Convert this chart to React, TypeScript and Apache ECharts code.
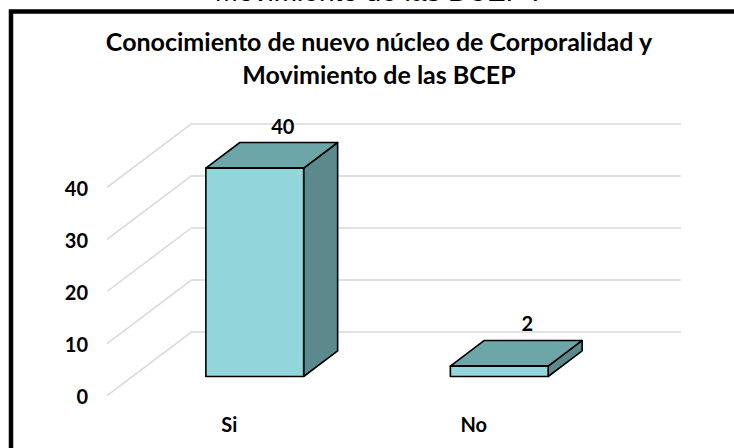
import React, { useEffect, useRef } from 'react';
import * as echarts from 'echarts';

const categories = ['Si', 'No'];
const values = [40, 2];
const yTicks = [0, 10, 20, 30, 40];
const titleLines = ['Conocimiento de nuevo núcleo de Corporalidad y', 'Movimiento de las BCEP'];
const cutHeading = 'Movimiento de las BCEP :';

// 3D projection: vector from the front plane to the back wall (pixels)
const DEPTH_X = 85;
const DEPTH_Y = -64;
const BAR_FRONT = 0.7; // bar front face, fraction of depth measured from back wall
const BAR_BACK = 0.3;
const BAR_WIDTH = 0.4;

const FONT = 'Lato';
const GRID_COLOR = '#d9d9d9';

export default function App() {
  const ref = useRef<HTMLDivElement>(null);
  useEffect(() => {
    document.body.style.margin = '0';
    const chart = echarts.init(ref.current!, null, { renderer: 'svg' });

    const renderBar = (params: any, api: any) => {
      const cat = api.value(0);
      const val = api.value(1);
      const top = api.coord([cat, val]);
      const base = api.coord([cat, 0]);
      const w = api.size([1, 0])[0] * BAR_WIDTH;
      const fx = -BAR_FRONT * DEPTH_X;
      const fy = -BAR_FRONT * DEPTH_Y;
      const dx = (BAR_FRONT - BAR_BACK) * DEPTH_X;
      const dy = (BAR_FRONT - BAR_BACK) * DEPTH_Y;
      const L = top[0] - w / 2 + fx;
      const R = top[0] + w / 2 + fx;
      const T = top[1] + fy;
      const B = base[1] + fy;
      const stroke = { stroke: '#000', lineWidth: 1.6, lineJoin: 'round' };
      return {
        type: 'group',
        children: [
          {
            type: 'polygon',
            shape: { points: [[R, T], [R, B], [R + dx, B + dy], [R + dx, T + dy]] },
            style: { fill: '#5c8a8c', ...stroke },
          },
          {
            type: 'polygon',
            shape: { points: [[L, T], [R, T], [R + dx, T + dy], [L + dx, T + dy]] },
            style: { fill: '#6da6a8', ...stroke },
          },
          {
            type: 'rect',
            shape: { x: L, y: T, width: R - L, height: B - T },
            style: { fill: '#92d6dc', ...stroke },
          },
          {
            type: 'text',
            x: top[0] + fx + dx - 6,
            y: T + dy - 17,
            style: {
              text: String(val),
              align: 'center',
              verticalAlign: 'middle',
              fontFamily: FONT,
              fontSize: 20,
              fontWeight: 'bold',
              fill: '#000',
            },
          },
        ],
      };
    };

    const renderWallLine = (params: any, api: any) => {
      const y = api.coord([0, api.value(1)])[1];
      const x = params.coordSys.x;
      return {
        type: 'line',
        shape: { x1: x, y1: y, x2: x - DEPTH_X, y2: y - DEPTH_Y },
        style: { stroke: GRID_COLOR, lineWidth: 1.5 },
      };
    };

    const labelStyle = { fontFamily: FONT, fontSize: 20, fontWeight: 'bold', color: '#000' };

    chart.setOption({
      animation: false,
      backgroundColor: '#ffffff',
      graphic: [
        {
          type: 'text',
          x: 377,
          y: -8.5,
          style: {
            text: cutHeading,
            align: 'center',
            verticalAlign: 'middle',
            fontFamily: 'Liberation Sans',
            fontSize: 28,
            fill: '#000',
          },
        },
        {
          type: 'rect',
          shape: { x: 11, y: 11.5, width: 800, height: 600 },
          style: { fill: 'none', stroke: '#000', lineWidth: 4.5 },
        },
        {
          type: 'text',
          x: 379,
          y: 24.5,
          style: {
            text: titleLines.join('\n'),
            align: 'center',
            verticalAlign: 'top',
            lineHeight: 33,
            fontFamily: FONT,
            fontSize: 25,
            fontWeight: 'bold',
            fill: '#000',
          },
        },
      ],
      grid: [
        { left: 192, top: 123.3, width: 489, height: 208.4 },
        { left: 107, top: 187.7, width: 489, height: 208.4 },
      ],
      xAxis: [
        { gridIndex: 0, type: 'category', data: categories, show: false },
        {
          gridIndex: 1,
          type: 'category',
          data: categories,
          axisLine: { show: false },
          axisTick: { show: false },
          axisLabel: { margin: 18, ...labelStyle },
        },
      ],
      yAxis: [
        {
          gridIndex: 0,
          type: 'value',
          min: 0,
          max: 40,
          interval: 10,
          axisLabel: { show: false },
          axisLine: { show: false },
          axisTick: { show: false },
          splitLine: { show: true, lineStyle: { color: GRID_COLOR, width: 1.5 } },
        },
        {
          gridIndex: 1,
          type: 'value',
          min: 0,
          max: 40,
          interval: 10,
          axisLine: { show: false },
          axisTick: { show: false },
          splitLine: { show: false },
          axisLabel: { margin: 19, ...labelStyle },
        },
      ],
      series: [
        {
          type: 'custom',
          xAxisIndex: 0,
          yAxisIndex: 0,
          silent: true,
          data: yTicks.map((v) => [0, v]),
          renderItem: renderWallLine,
        },
        {
          type: 'custom',
          xAxisIndex: 0,
          yAxisIndex: 0,
          data: values.map((v, i) => [i, v]),
          renderItem: renderBar,
        },
      ],
    });
    return () => chart.dispose();
  }, []);
  return <div ref={ref} style={{ width: 734, height: 448 }} />;
}
